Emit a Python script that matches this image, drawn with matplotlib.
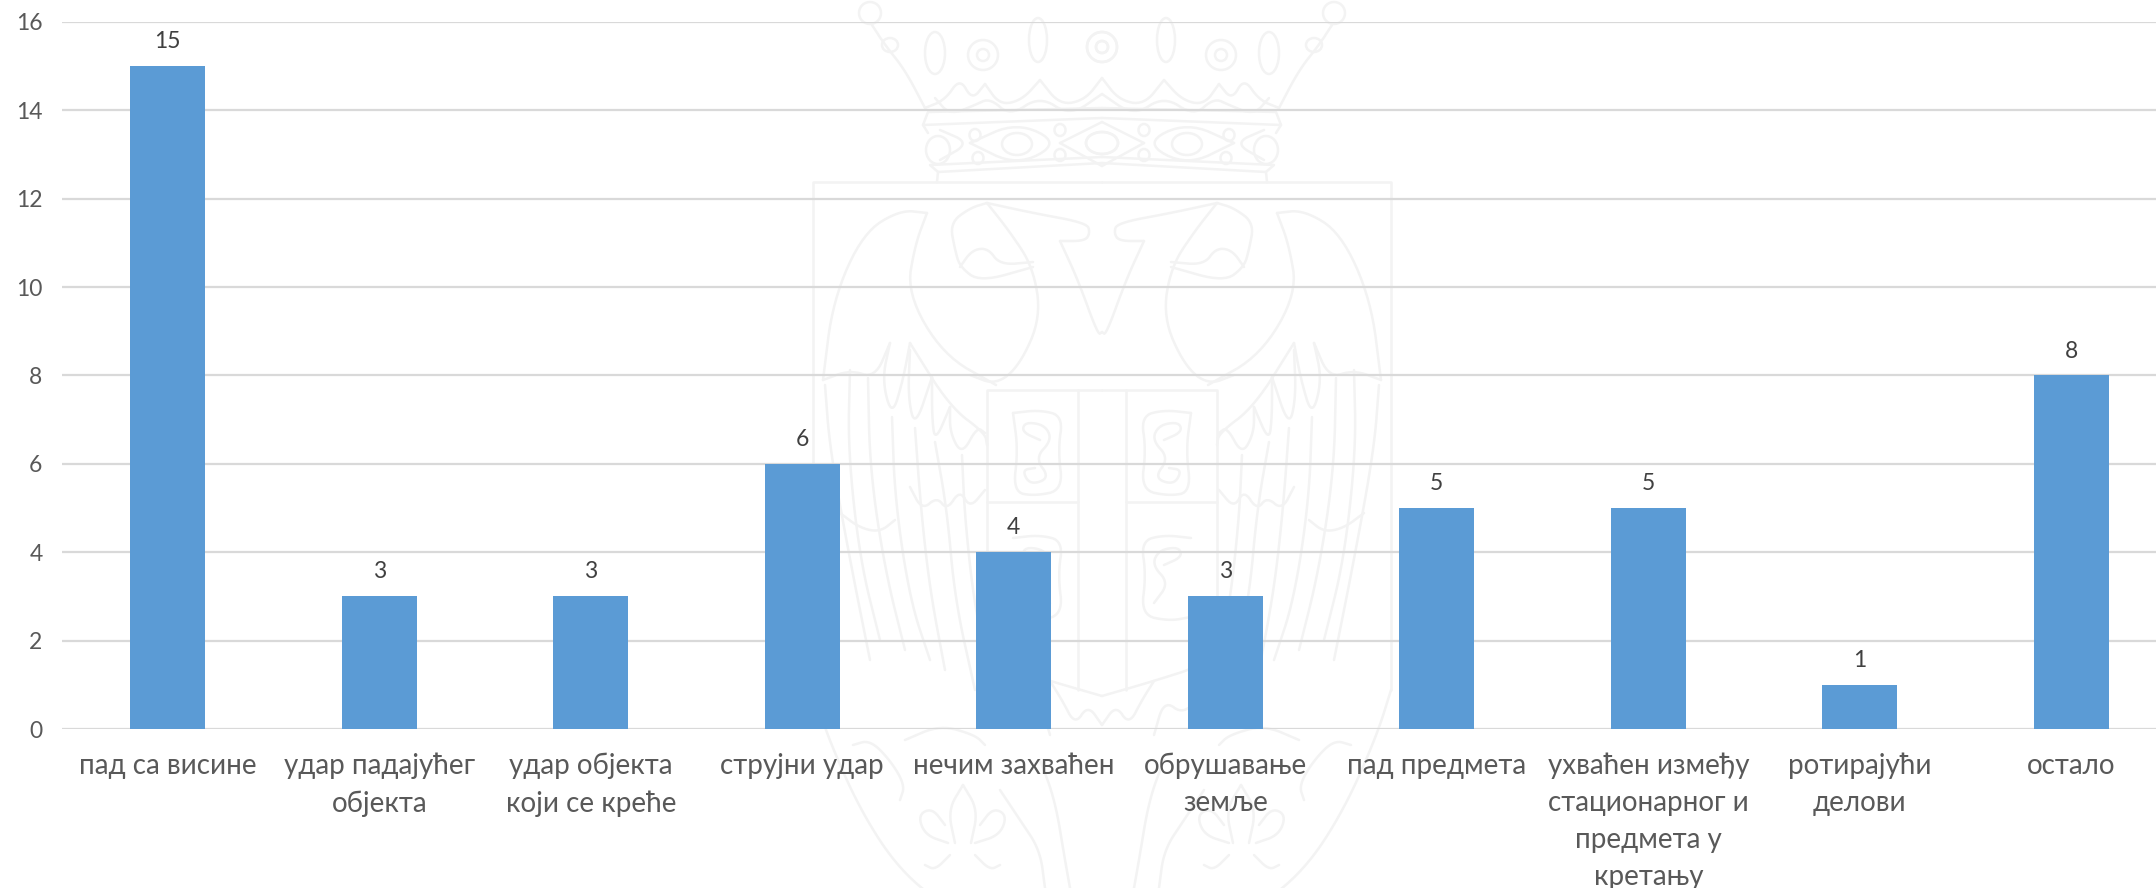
import numpy as np
import matplotlib
matplotlib.use('Agg')
import matplotlib.pyplot as plt
from matplotlib.patches import Ellipse

categories = ['пад са висине', 'удар падајућег\nобјекта', 'удар објекта\nкоји се креће',
              'струјни удар', 'нечим захваћен', 'обрушавање\nземље', 'пад предмета',
              'ухваћен између\nстационарног и\nпредмета у\nкретању', 'ротирајући\nделови', 'остало']
values = [15, 3, 3, 6, 4, 3, 5, 5, 1, 8]
y_ticks = list(range(0, 17, 2))

W, H = 2156, 888
MID = 1102  # mirror line of the watermark

# ── Watermark outline, left half in image pixels, mirrored when drawn ──
straight = [
    [(813, 690), (813, 182), (MID, 182)],                       # frame
    [(937, 182), (938, 172), (MID, 163)],
    [(928, 133), (923, 125), (928, 112), (MID, 108)],           # crown bands
    [(923, 125), (MID, 118)],
    [(938, 172), (930, 165), (MID, 157)],
    [(987, 640), (987, 390), (MID, 390)],                       # shield
    [(987, 502), (1078, 502), (1078, 390)],
    [(1078, 502), (1078, 690)],
]
curves = [
    [(813, 690), (827, 735), (860, 810), (900, 871), (950, 910)],      # outer arc
    [(925, 108), (905, 70), (885, 45), (872, 25)],                     # crown side
    [(925, 108), (945, 100), (960, 78), (972, 100), (985, 84)],
    [(985, 84), (1000, 105), (1022, 100), (1040, 80)],
    [(1040, 80), (1060, 105), (1085, 100), (1102, 78)],
    [(935, 98), (950, 115), (975, 105), (990, 98), (1010, 116), (1040, 96), (1070, 116), (1102, 94)],
    [(970, 143), (1017, 122), (1060, 143), (1017, 166), (970, 143)],   # lattice
    [(1060, 143), (1102, 122)], [(1060, 143), (1102, 166)],
    [(940, 130), (970, 143), (940, 160)],
    [(987, 203), (1033, 213), (1087, 223), (1090, 233), (1085, 241), (1060, 241)],  # head
    [(987, 203), (970, 208), (950, 223), (955, 250), (960, 267), (980, 282), (1033, 267)],
    [(960, 267), (972, 250), (988, 248), (1000, 265), (1033, 262)],
    [(987, 203), (1010, 232), (1033, 267), (1041, 317), (1020, 365), (996, 385), (970, 375)],
    [(1060, 241), (1078, 280), (1098, 335), (1102, 332)],
    [(927, 213), (900, 210), (863, 233), (833, 300), (823, 380)],      # wing
    [(927, 213), (915, 245), (907, 293), (943, 355), (996, 385)],
    [(823, 380), (850, 370), (875, 378), (890, 343)],
    [(910, 343), (950, 407), (985, 433), (987, 445)],
    [(890, 343), (882, 380), (892, 417), (903, 380), (910, 343)],      # feathers
    [(910, 350), (908, 397), (915, 428), (932, 377)],
    [(932, 377), (932, 417), (935, 442), (950, 407)],
    [(950, 407), (950, 433), (962, 455), (977, 427), (985, 433)],
    [(910, 487), (922, 510), (937, 497), (947, 510), (960, 490), (970, 508), (985, 490)],
    [(850, 370), (848, 450), (860, 560), (880, 640)],
    [(868, 378), (870, 470), (885, 570), (905, 650)],
    [(892, 417), (895, 500), (910, 600), (930, 660)],
    [(915, 428), (921, 510), (930, 590), (945, 670)],
    [(935, 442), (947, 510), (955, 600), (975, 690)],
    [(962, 455), (965, 520), (975, 610), (990, 670)],
    [(825, 385), (830, 450), (850, 560), (870, 660)],
    [(840, 513), (860, 528), (880, 532), (895, 520)],
    [(1013, 413), (1040, 410), (1063, 416), (1058, 450), (1063, 490), (1035, 496), (1013, 492), (1018, 450), (1013, 413)],  # fire steel
    [(1040, 440), (1022, 432), (1025, 422), (1045, 425), (1052, 440), (1035, 458), (1050, 478), (1030, 485), (1022, 470), (1035, 468)],
    [(1013, 538), (1040, 535), (1063, 541), (1058, 575), (1063, 615), (1035, 621), (1013, 617)],
    [(1040, 565), (1022, 557), (1025, 547), (1045, 550), (1052, 565), (1035, 583), (1050, 603)],
    [(987, 640), (1000, 665), (1050, 681), (MID, 696)],                # shield foot
    [(1050, 681), (1062, 700), (1075, 725), (1088, 705), (1102, 725)],
    [(1000, 690), (1020, 715), (1040, 700), (1050, 735)],
    [(963, 785), (948, 810), (955, 843)], [(963, 785), (978, 810), (971, 843)],  # lily
    [(948, 843), (925, 835), (918, 815), (932, 808), (945, 825)],
    [(975, 843), (1000, 835), (1007, 815), (993, 808), (980, 825)],
    [(950, 855), (935, 870), (925, 865)], [(975, 855), (990, 870), (1000, 865)],
    [(853, 745), (870, 740), (890, 760), (905, 785), (900, 800)],      # claws
    [(905, 740), (940, 725), (975, 735), (985, 745)],
    [(1040, 760), (1055, 800), (1065, 860), (1070, 888)],
    [(1000, 790), (1020, 820), (1040, 850), (1045, 888)],
]
ellipses = [  # centre x, centre y, width, height
    (1017, 144, 30, 22), (1102, 143, 32, 22), (938, 150, 24, 28),
    (975, 135, 11, 12), (978, 158, 11, 12), (1060, 130, 11, 12), (1060, 155, 11, 12),
    (935, 53, 20, 42), (1038, 40, 18, 44), (983, 55, 30, 30), (983, 55, 12, 12),
    (1102, 47, 30, 30), (1102, 47, 12, 12), (870, 13, 22, 22), (890, 45, 16, 14),
]


def chaikin(points, rounds=3):
    pts = np.asarray(points, dtype=float)
    for _ in range(rounds):
        q = 0.75 * pts[:-1] + 0.25 * pts[1:]
        r = 0.25 * pts[:-1] + 0.75 * pts[1:]
        mid = np.empty((2 * len(q), 2))
        mid[0::2], mid[1::2] = q, r
        pts = np.vstack([pts[0], mid, pts[-1]])
    return pts


plt.rcParams['font.family'] = ['Lato', 'Open Sans', 'DejaVu Sans']
fig = plt.figure(figsize=(W / 100, H / 100), dpi=100)

# ── Watermark underlay ──
bg = fig.add_axes([0, 0, 1, 1], zorder=0)
bg.set_xlim(0, W)
bg.set_ylim(H, 0)
bg.axis('off')
WM = {'color': '#f3f3f3', 'lw': 1.8, 'solid_capstyle': 'round'}
for line in straight + [chaikin(c) for c in curves]:
    pts = np.asarray(line, dtype=float)
    bg.plot(pts[:, 0], pts[:, 1], **WM)
    bg.plot(2 * MID - pts[:, 0], pts[:, 1], **WM)
for cx, cy, w, h in ellipses:
    for px in (cx, 2 * MID - cx):
        bg.add_patch(Ellipse((px, cy), w, h, fill=False, ec=WM['color'], lw=WM['lw']))

# ── Chart ──
ax = fig.add_axes([62 / W, 1 - 729 / H, (W - 62) / W, 707 / H], zorder=1)
ax.patch.set_alpha(0)

x = np.arange(len(values))
ax.bar(x, values, width=0.355, color='#5b9bd5', zorder=3)
for xi, v in zip(x, values):
    ax.annotate(str(v), (xi, v), xytext=(0, 14), textcoords='offset pixels', ha='center', va='bottom',
                fontsize=16.5, color='#404040')

ax.set_xlim(-0.5, 9.4)
ax.set_ylim(0, 16)
ax.set_yticks(y_ticks)
ax.set_xticks(x)
ax.set_xticklabels(categories, linespacing=1.52)
ax.tick_params(axis='both', length=0, labelcolor='#595959')
ax.tick_params(axis='y', labelsize=16.5, pad=14)
ax.tick_params(axis='x', labelsize=20, pad=17)
ax.grid(axis='y', color='#d9d9d9', lw=1.6, zorder=1)
for s in ax.spines.values():
    s.set_visible(False)

fig.savefig('out.png', dpi=100, facecolor='white')
